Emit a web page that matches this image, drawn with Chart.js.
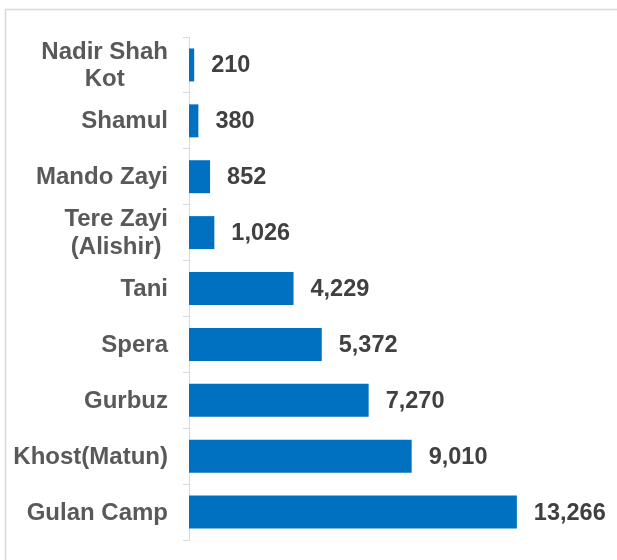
<!DOCTYPE html>
<html>
<head>
<meta charset="utf-8">
<script src="https://cdn.jsdelivr.net/npm/chart.js@4/dist/chart.umd.min.js"></script>
<style>
html,body{margin:0;padding:0;background:#fff;overflow:hidden;}
canvas{display:block;}
</style>
</head>
<body>
<canvas id="c" width="617" height="560"></canvas>
<script>
const categories = [['Nadir Shah','Kot'], 'Shamul', 'Mando Zayi', ['Tere Zayi','(Alishir)'], 'Tani', 'Spera', 'Gurbuz', 'Khost(Matun)', 'Gulan Camp'];
const values = [210, 380, 852, 1026, 4229, 5372, 7270, 9010, 13266];
const xMax = 14000;

const LABEL_FONT = 'bold 24px "Liberation Sans", Arial, sans-serif';
const VALUE_FONT = 'bold 23.5px "Liberation Sans", Arial, sans-serif';

const framePlugin = {
  id: 'frame',
  beforeDraw(chart) {
    const ctx = chart.ctx;
    ctx.save();
    ctx.strokeStyle = '#d9d9d9';
    ctx.lineWidth = 1.5;
    ctx.strokeRect(5.5, 9.5, 700, 700);
    ctx.restore();
  }
};

const labelPlugin = {
  id: 'labels',
  afterDraw(chart) {
    const ctx = chart.ctx;
    const yScale = chart.scales.y;
    ctx.save();
    ctx.font = LABEL_FONT;
    ctx.fillStyle = '#595959';
    ctx.textAlign = 'center';
    ctx.textBaseline = 'middle';
    const lineH = 27.5;
    categories.forEach((cat, i) => {
      const lines = Array.isArray(cat) ? cat : [cat];
      const maxW = Math.max(...lines.map(l => ctx.measureText(l).width));
      const cx = 168 - maxW / 2;
      const cy = yScale.getPixelForValue(i);
      lines.forEach((l, j) => {
        ctx.fillText(l, cx, cy + (j - (lines.length - 1) / 2) * lineH + 1);
      });
    });
    const meta = chart.getDatasetMeta(0);
    ctx.font = VALUE_FONT;
    ctx.fillStyle = '#404040';
    ctx.textAlign = 'left';
    meta.data.forEach((bar, i) => {
      ctx.fillText(values[i].toLocaleString('en-US'), bar.x + 17, bar.y + 1);
    });
    ctx.restore();
  }
};

new Chart(document.getElementById('c'), {
  type: 'bar',
  data: {
    labels: categories,
    datasets: [{
      data: values,
      backgroundColor: '#0070C0',
      borderWidth: 0,
      barPercentage: 0.59,
      categoryPercentage: 1
    }]
  },
  options: {
    indexAxis: 'y',
    responsive: false,
    animation: false,
    layout: { padding: { left: 0, right: 82, top: 37, bottom: 20 } },
    plugins: { legend: { display: false }, tooltip: { enabled: false } },
    scales: {
      x: { display: false, min: 0, max: xMax },
      y: {
        type: 'category',
        offset: true,
        grid: { display: true, drawOnChartArea: false, drawTicks: true, tickLength: 6, color: '#d9d9d9', offset: true },
        border: { display: true, color: '#d9d9d9', width: 1 },
        ticks: { color: 'rgba(0,0,0,0)', font: { size: 10 } },
        afterFit(scale) { scale.width = 189; }
      }
    }
  },
  plugins: [framePlugin, labelPlugin]
});
</script>
</body>
</html>
